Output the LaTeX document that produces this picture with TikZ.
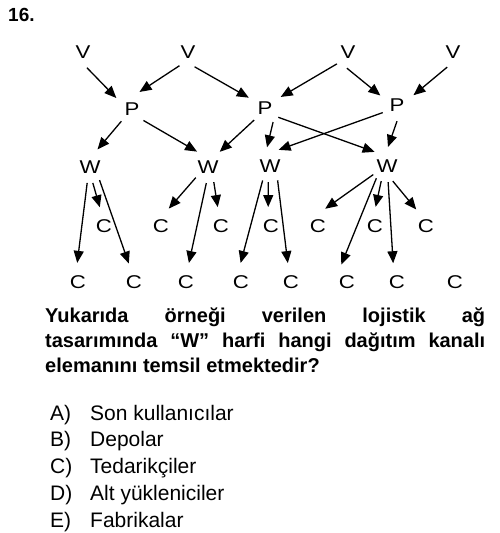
\documentclass[tikz,border=0pt]{standalone}
\usepackage{fontspec}
\setmainfont{Liberation Sans}
\newfontfamily\diagfont[FakeStretch=1.2]{Liberation Sans}
\usetikzlibrary{arrows.meta}

\begin{document}
\begin{tikzpicture}[
    x=1pt, y=-1pt,
    letter/.style={
        circle, minimum size=32pt, inner sep=0pt,
        font=\diagfont\fontsize{18.5}{20}\selectfont
    },
    arr/.style={-{Triangle[length=12pt,width=10pt]}, line width=1.3pt, shorten >=3pt},
    choice/.style={anchor=base west, inner sep=0pt, font=\fontsize{21}{24}\selectfont}
]
    \useasboundingbox (0,0) rectangle (500,533);

    \node[anchor=base west, inner sep=0pt, font=\bfseries\fontsize{19}{22}\selectfont] (num) at (8,21) {16.};

    % Suppliers
    \node[letter] (v1) at (83,52) {V};
    \node[letter] (v2) at (188,52) {V};
    \node[letter] (v3) at (348,52) {V};
    \node[letter] (v4) at (453,52) {V};

    % Plants
    \node[letter] (p1) at (132,109) {P};
    \node[letter] (p2) at (265,108) {P};
    \node[letter] (p3) at (397,105) {P};

    % Warehouses
    \node[letter] (w1) at (90,167) {W};
    \node[letter] (w2) at (208,167) {W};
    \node[letter] (w3) at (270,166) {W};
    \node[letter] (w4) at (387,166) {W};

    % Customers
    \node[letter] (ca1) at (104,226) {C};
    \node[letter] (ca2) at (161,226) {C};
    \node[letter] (ca3) at (221,226) {C};
    \node[letter] (ca4) at (271,226) {C};
    \node[letter] (ca5) at (318,226) {C};
    \node[letter] (ca6) at (375,226) {C};
    \node[letter] (ca7) at (426,226) {C};
    \node[letter] (cb1) at (78,282) {C};
    \node[letter] (cb2) at (134,282) {C};
    \node[letter] (cb3) at (186,282) {C};
    \node[letter] (cb4) at (241,282) {C};
    \node[letter] (cb5) at (291,282) {C};
    \node[letter] (cb6) at (347,282) {C};
    \node[letter] (cb7) at (397,282) {C};
    \node[letter] (cb8) at (455,282) {C};

    % Arrows
    \foreach \a/\b in {v1.284/p1.147, v2.238/p1.72, v2.294/p2.147, v3.227/p2.36,
        v3.266/p3.152, v4.249/p3.29,
        p1.229/w1.70, p1.315/w2.121, p2.228/w2.54, p2.300/w3.103, p2.325/w4.126,
        p3.208/w3.69, p3.270/w4.90,
        w1.260/cb1.94, w1.280/ca1.102, w1.306/cb2.105,
        w2.221/ca2.69, w2.264/cb3.82, w2.291/ca3.100,
        w3.243/cb4.94, w3.264/ca4.100, w3.298/cb5.100,
        w4.212/ca5.73, w4.229/cb6.115, w4.249/ca6.90, w4.274/cb7.103, w4.291/ca7.119} {
        \draw[arr] (\a) -- (\b);
    }

    % Question
    \node[anchor=base west, text width=440pt, align=justify, inner sep=0pt,
        font=\bfseries\fontsize{20}{25}\selectfont] (question) at (45,322)
        {Yukarıda örneği verilen lojistik ağ\linebreak
         tasarımında “W” harfi hangi dağıtım kanalı\linebreak
         elemanını temsil etmektedir?};

    % Choices
    \foreach \l/\t [count=\i] in {A/Son kullanıcılar, B/Depolar, C/Tedarikçiler,
        D/Alt yükleniciler, E/Fabrikalar} {
        \node[choice] (lbl\l) at (50,{420+26.75*(\i-1)}) {\l)};
        \node[choice] (opt\l) at (90,{420+26.75*(\i-1)}) {\t};
    }
\end{tikzpicture}
\end{document}
